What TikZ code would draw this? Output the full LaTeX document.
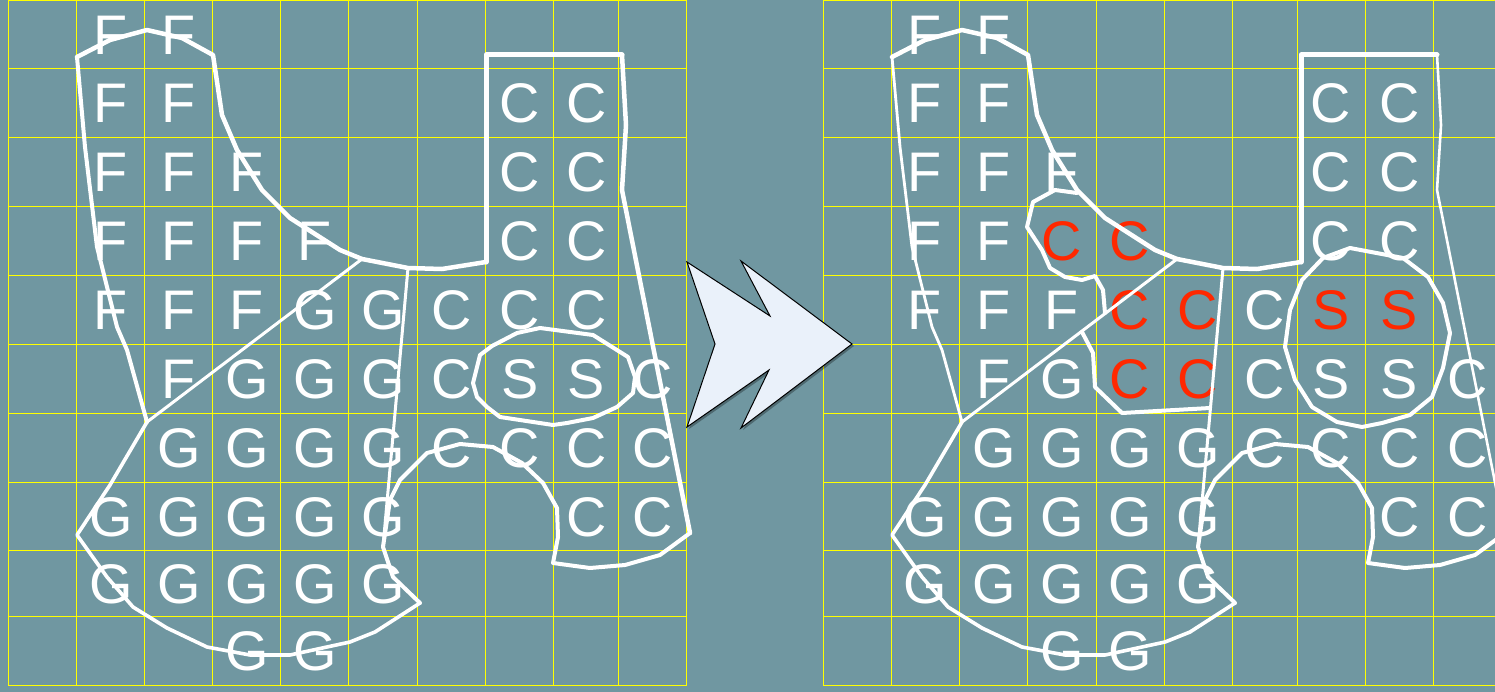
\documentclass[tikz,border=0pt]{standalone}
\usepackage{fontspec}
\setmainfont{Liberation Sans}
\definecolor{bg}{RGB}{112,151,161}
\definecolor{gridy}{RGB}{255,255,0}
\definecolor{redc}{RGB}{255,40,0}
\definecolor{arrowfill}{RGB}{234,241,250}
\begin{document}
\begin{tikzpicture}[x=1bp,y=-1bp,
  gridline/.style={gridy, line width=1.8bp},
  wline/.style={white, line width=#1, line join=round, line cap=round},
  lettr/.style={anchor=base, inner sep=0pt, text=white, font=\fontsize{56}{56}\selectfont},
]
\useasboundingbox (0,0) rectangle (1495,692);
\fill[bg] (0,0) rectangle (1495,692);
\clip (0,0) rectangle (1495,692);

% ---------- grids ----------
\foreach \x in {8.5,76.5,144.5,212.5,280.5,348.5,417.5,485.5,553.5,618.5,686.5}
  \draw[gridline] (\x,0.5) -- (\x,685.5);
\foreach \y in {0.5,68.5,137.5,206.5,275.5,344.5,413.5,482.5,550.5,616.5,685.5}
  \draw[gridline] (8,\y) -- (687,\y);
\foreach \x in {823.5,891.5,959.5,1027.5,1096.5,1164.5,1232.5,1297.5,1365.5,1433.5}
  \draw[gridline] (\x,0.5) -- (\x,685.5);
\foreach \y in {0.5,68.5,137.5,206.5,275.5,344.5,413.5,482.5,550.5,616.5,685.5}
  \draw[gridline] (823,\y) -- (1495,\y);

% ---------- letters, left grid ----------
\foreach \r/\c/\t in {0/1/F,0/2/F,
  1/1/F,1/2/F,1/7/C,1/8/C,
  2/1/F,2/2/F,2/3/F,2/7/C,2/8/C,
  3/1/F,3/2/F,3/3/F,3/4/F,3/7/C,3/8/C,
  4/1/F,4/2/F,4/3/F,4/4/G,4/5/G,4/6/C,4/7/C,4/8/C,
  5/2/F,5/3/G,5/4/G,5/5/G,5/6/C,5/7/S,5/8/S,5/9/C,
  6/2/G,6/3/G,6/4/G,6/5/G,6/6/C,6/7/C,6/8/C,6/9/C,
  7/1/G,7/2/G,7/3/G,7/4/G,7/5/G,7/8/C,7/9/C,
  8/1/G,8/2/G,8/3/G,8/4/G,8/5/G,
  9/3/G,9/4/G}{
  \pgfmathsetmacro\cx{{42.5,111,179,247,315,383,451.5,520,586.5,653}[\c]}
  \pgfmathsetmacro\cy{{54.6,123,191.8,260.6,329.6,398.8,467.8,536.5,603.3,670.6}[\r]}
  \node[lettr] (L\r\c) at (\cx,\cy) {\t};
}

% ---------- letters, right grid ----------
\foreach \r/\c/\t/\col in {0/1/F/white,0/2/F/white,
  1/1/F/white,1/2/F/white,1/7/C/white,1/8/C/white,
  2/1/F/white,2/2/F/white,2/3/F/white,2/7/C/white,2/8/C/white,
  3/1/F/white,3/2/F/white,3/3/C/redc,3/4/C/redc,3/7/C/white,3/8/C/white,
  4/1/F/white,4/2/F/white,4/3/F/white,4/4/C/redc,4/5/C/redc,4/6/C/white,4/7/S/redc,4/8/S/redc,
  5/2/F/white,5/3/G/white,5/4/C/redc,5/5/C/redc,5/6/C/white,5/7/S/white,5/8/S/white,5/9/C/white,
  6/2/G/white,6/3/G/white,6/4/G/white,6/5/G/white,6/6/C/white,6/7/C/white,6/8/C/white,6/9/C/white,
  7/1/G/white,7/2/G/white,7/3/G/white,7/4/G/white,7/5/G/white,7/8/C/white,7/9/C/white,
  8/1/G/white,8/2/G/white,8/3/G/white,8/4/G/white,8/5/G/white,
  9/3/G/white,9/4/G/white}{
  \pgfmathsetmacro\cx{{857,925,994,1062,1130,1198,1264.5,1331,1399.5,1468}[\c]}
  \pgfmathsetmacro\cy{{54.6,123,191.8,260.6,329.6,398.8,467.8,536.5,603.3,670.6}[\r]}
  \node[lettr, text=\col] (R\r\c) at (\cx,\cy) {\t};
}

% ---------- common outlines (left and right copies) ----------
\foreach \dx/\wa/\wb in {0/4.5/4, 815/2.6/2.8}{
\begin{scope}[xshift=\dx bp]
  % F region: top and left boundary
  \draw[wline=4.5bp] (362,259) -- (340,250) -- (290,218) -- (262,190) -- (237,150)
     -- (222,115) -- (213,55) -- (182,38) -- (147,30) -- (110,40) -- (77,57);
  \draw[wline=\wb bp] (77,57) -- (85,147) -- (97,247) -- (117,327) -- (127,350) -- (147,422);
  % diagonal F / G
  \draw[wline=3bp] (147,422) -- (362,259);
  % G / C separator
  \draw[wline=3bp] (408,268) -- (383,547);
  % C region boundary
  \draw[wline=4.5bp] (362,259) -- (408,268) -- (442,269) -- (486,262);
  \draw[wline=5bp] (486,262) -- (486,55) -- (622,55);
  \draw[wline=\wa bp] (622,55) -- (626,125) -- (622,190) -- (690,533);
  \draw[wline=4bp] (690,533) -- (660,555) -- (625,565) -- (590,568) -- (553,563)
     -- (558,537) -- (557,508) -- (543,483) -- (522,463) -- (493,447) -- (460,444)
     -- (427,453) -- (400,480) -- (390,500) -- (383,547) -- (393,577) -- (420,603);
  % G region bottom
  \draw[wline=3.6bp] (420,603) -- (375,632) -- (350,642) -- (290,655) -- (250,655)
     -- (207,647) -- (167,628) -- (133,607) -- (107,577) -- (77,535) -- (110,485) -- (147,422);
\end{scope}
}

% ---------- left: ellipse around S S ----------
\draw[wline=4bp] (473,383) -- (480,355) -- (492,346) -- (517,333) -- (540,328) -- (593,335)
  -- (628,357) -- (635,377) -- (633,393) -- (617,407) -- (593,418) -- (567,423)
  -- (553,425) -- (500,417) -- (487,407) -- (477,397) -- cycle;

% ---------- right: new red C region ----------
\draw[wline=4bp] (1077,193) -- (1055,190) -- (1033,202) -- (1027,227) -- (1042,250)
  -- (1050,268) -- (1065,277) -- (1082,280) -- (1095,276) -- (1103,290) -- (1105,313);
\draw[wline=4bp] (1082,332) -- (1093,353) -- (1095,387) -- (1122,413) -- (1210,408);

% ---------- right: circle around S S ----------
\draw[wline=4bp] (1302,280) -- (1323,258) -- (1350,248) -- (1403,258) -- (1428,277)
  -- (1443,303) -- (1450,333) -- (1443,368) -- (1432,397) -- (1410,415) -- (1382,423)
  -- (1362,427) -- (1337,422) -- (1312,407) -- (1295,380) -- (1285,347) -- (1290,310) -- cycle;

% ---------- arrow ----------
\fill[black, opacity=0.3, xshift=2bp, yshift=-2bp]
  (687,262) -- (770,316) -- (741,261) -- (852,344) -- (741,428) -- (769,370) -- (687,427) -- (715,344) -- cycle;
\draw[black, line width=1bp, fill=arrowfill, line join=miter]
  (687,262) -- (770,316) -- (741,261) -- (852,344) -- (741,428) -- (769,370) -- (687,427) -- (715,344) -- cycle;
\end{tikzpicture}
\end{document}
